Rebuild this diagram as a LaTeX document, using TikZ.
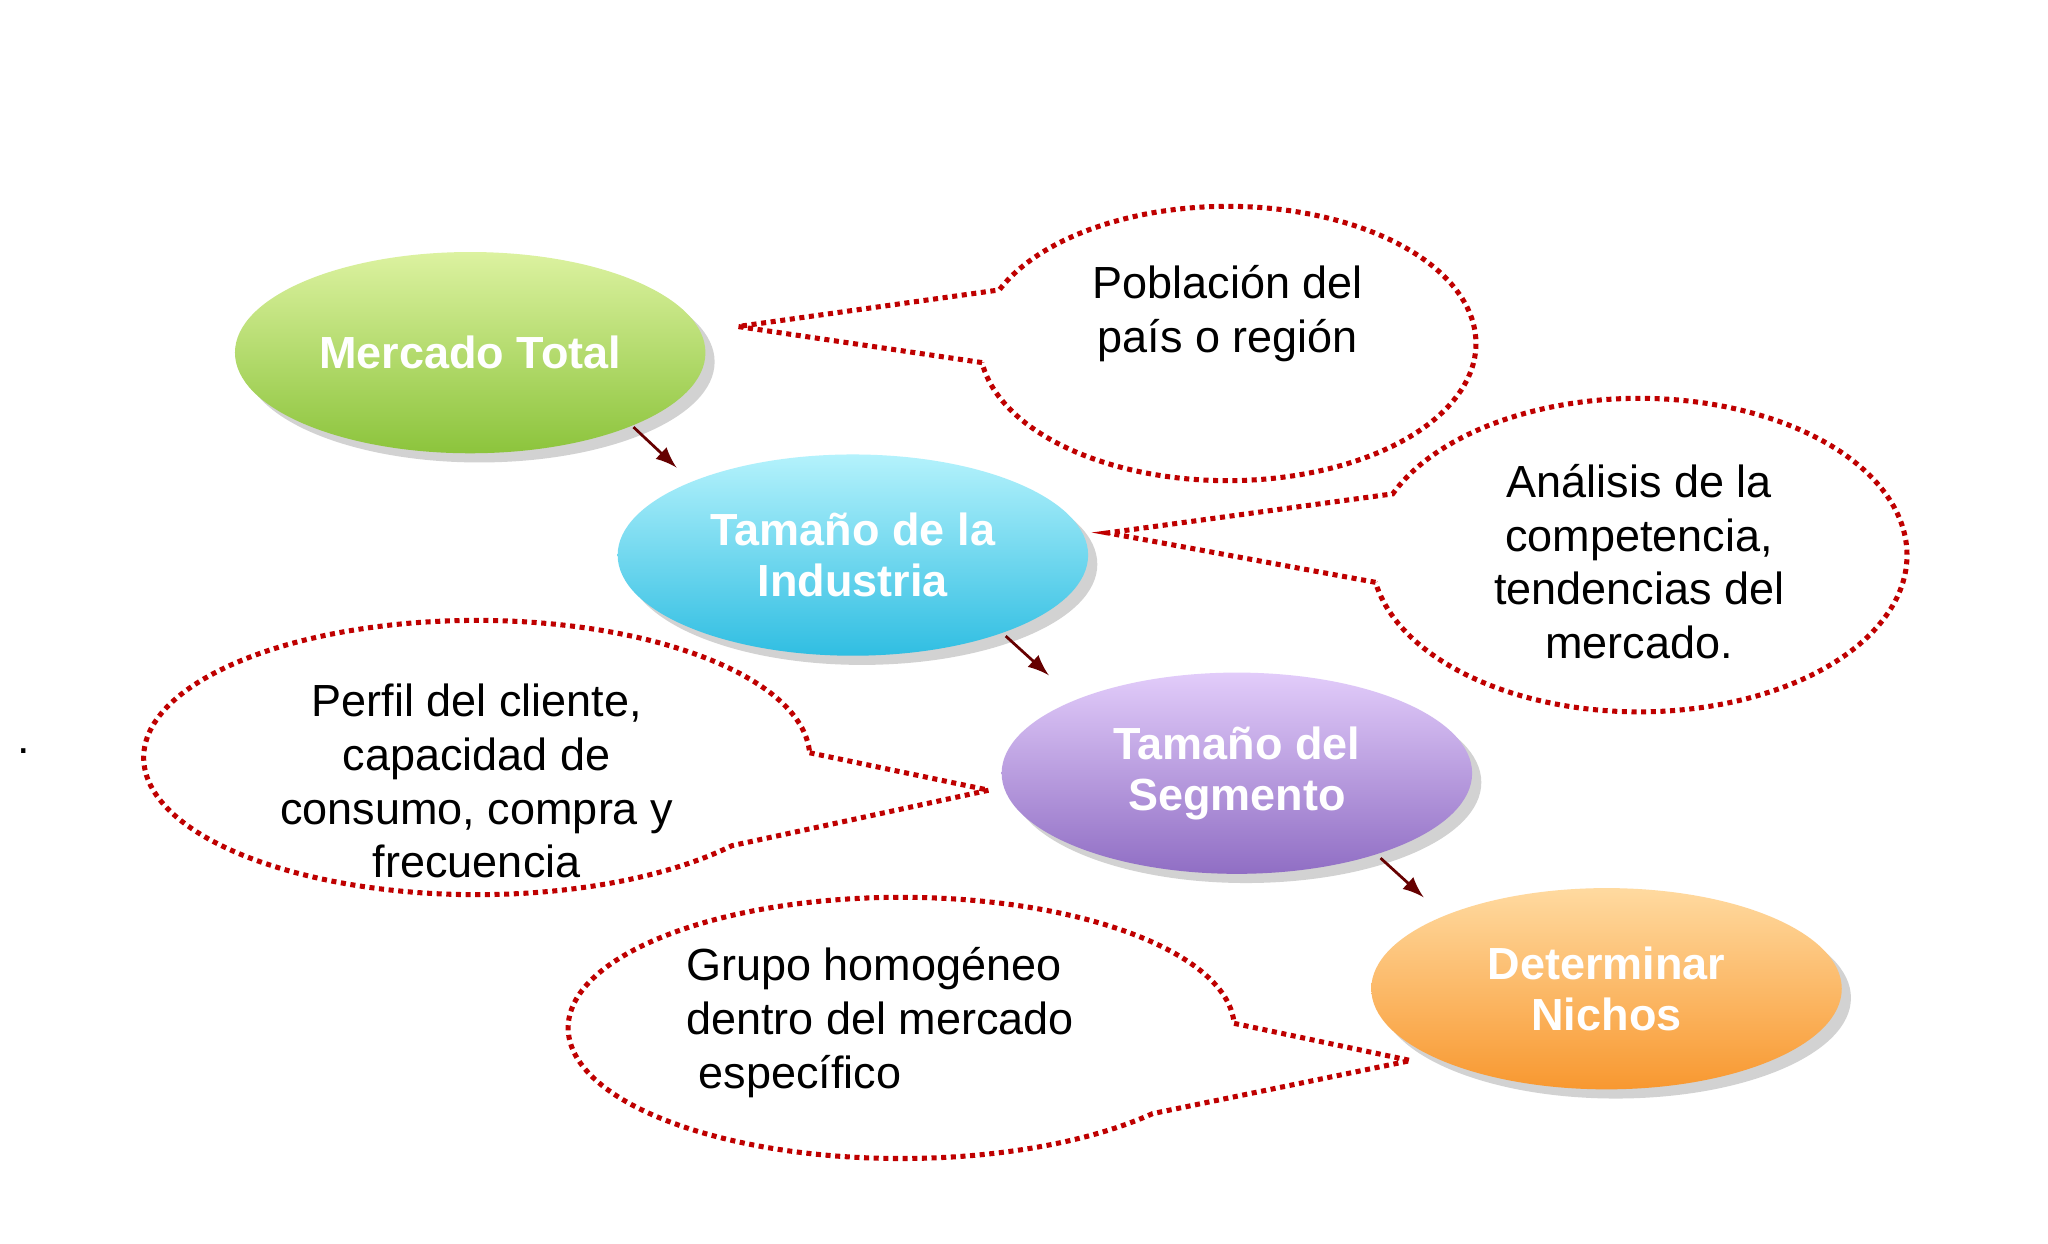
\documentclass[tikz,border=0pt]{standalone}
\usepackage{fontspec}
\setmainfont{Liberation Sans}
\usetikzlibrary{shadows,calc,shapes.geometric}
\begin{document}
\begin{tikzpicture}[x=0.01cm,y=-0.01cm,
  ell/.style={ellipse,minimum width=3.6cm,minimum height=1.54cm,inner sep=0pt,text=white,font=\fontsize{9.8}{11.1}\selectfont\bfseries,align=center,drop shadow={opacity=0.35,shadow xshift=2pt,shadow yshift=-2pt}},
  call/.style={draw=red!75!black,densely dotted,line width=1.1pt},
  ctext/.style={font=\fontsize{9.8}{11.7}\selectfont,align=center},
  arr/.style={-latex,draw=red!40!black,line width=0.6pt}]
\useasboundingbox (0,0) rectangle (1568,952);
\fill[white] (0,0) rectangle (1568,952);
% callouts
\coordinate (c1) at (940,263);
\draw[call] ($(c1)+(188:190 and -105)$) -- (565,250) -- ($(c1)+(157:190 and -105)$) arc[start angle=157,end angle=-172,x radius=190,y radius=-105];
\coordinate (c2) at (1255,425);
\draw[call] ($(c2)+(190:205 and -120)$) -- (848,408) -- ($(c2)+(157:205 and -120)$) arc[start angle=157,end angle=-170,x radius=205,y radius=-120];
\coordinate (c3) at (365,580);
\draw[call] ($(c3)+(2:255 and -105)$) -- (757,605) -- ($(c3)+(-40:255 and -105)$) arc[start angle=-40,end angle=-358,x radius=255,y radius=-105];
\coordinate (c4) at (690,787);
\draw[call] ($(c4)+(2:255 and -100)$) -- (1080,812) -- ($(c4)+(-41:255 and -100)$) arc[start angle=-41,end angle=-358,x radius=255,y radius=-100];
% ellipses
\node[ell,top color={rgb,255:red,220;green,242;blue,160},bottom color={rgb,255:red,140;green,196;blue,60}] (m) at (360,270) {Mercado Total};
\node[ell,top color={rgb,255:red,180;green,242;blue,252},bottom color={rgb,255:red,48;green,190;blue,226}] (i) at (653,425) {Tamaño de la\\Industria};
\node[ell,top color={rgb,255:red,226;green,204;blue,250},bottom color={rgb,255:red,144;green,110;blue,196}] (s) at (947,592) {Tamaño del\\Segmento};
\node[ell,top color={rgb,255:red,255;green,218;blue,160},bottom color={rgb,255:red,248;green,152;blue,48}] (n) at (1230,757) {Determinar\\Nichos};
\coordinate (a1) at (485,327); \coordinate (b1) at (518,358);
\coordinate (a2) at (770,487); \coordinate (b2) at (803,517);
\coordinate (a3) at (1057,657); \coordinate (b3) at (1090,687);
\draw[arr] (a1) -- (b1); \draw[arr] (a2) -- (b2); \draw[arr] (a3) -- (b3);
% texts
\node[ctext] (t1) at (940,240) {Población del\\país o región};
\node[ctext] (t2) at (1255,430) {Análisis de la\\competencia,\\tendencias del\\mercado.};
\node[ctext] (t3) at (365,598) {Perfil del cliente,\\capacidad de\\consumo, compra y\\frecuencia};
\node[ctext,align=left,anchor=west] (t4) at (513,783) {Grupo homogéneo\\dentro del mercado\\\ específico};
\node[ctext] (dot) at (18,575) {.};
\end{tikzpicture}
\end{document}
